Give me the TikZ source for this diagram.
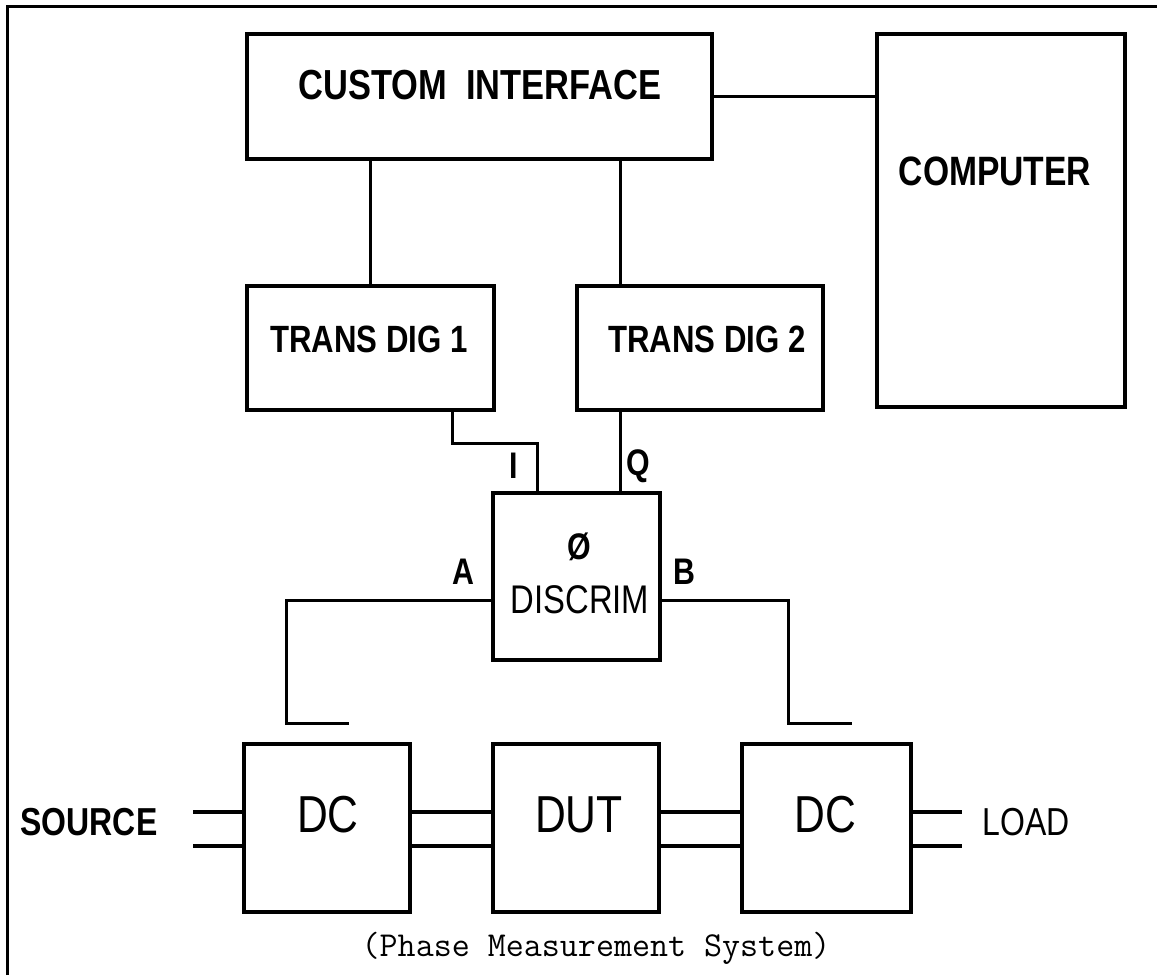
\documentclass[tikz,border=0pt]{standalone}
\usepackage{fontspec}
\setmainfont{Liberation Sans}
\newfontfamily\lfont[FakeStretch=0.82]{Liberation Sans}
\usetikzlibrary{calc}
\tikzset{
  blk/.style={draw, line width=3.5pt, inner sep=0pt, fill=white},
  wire/.style={line width=3pt, line cap=butt, line join=miter},
  pair/.style={line width=4pt},
  lettb/.style={inner sep=0pt, font=\lfont\bfseries\fontsize{#1}{#1}\selectfont},
  lettr/.style={inner sep=0pt, font=\lfont\fontsize{#1}{#1}\selectfont},
  bigr/.style={inner sep=0pt, font=\lfont\fontsize{#1}{#1}\selectfont},
}
\begin{document}
\begin{tikzpicture}[x=1pt, y=-1pt]
\useasboundingbox (0,0) rectangle (1157,975);
% frame
\coordinate (f1) at (7,975);
\coordinate (f2) at (7,6);
\coordinate (f3) at (1157,6);
\draw[line width=3pt] (f1) -- (f2) -- (f3);

% blocks
\node[blk, minimum width=465pt, minimum height=125pt] (ci) at (479.5,96.5) {};
\node[blk, minimum width=248pt, minimum height=373pt] (comp) at (1001,220.5) {};
\node[blk, minimum width=247pt, minimum height=124pt] (td1) at (370.5,348) {};
\node[blk, minimum width=246pt, minimum height=124pt] (td2) at (700,348) {};
\node[blk, minimum width=167pt, minimum height=167pt] (disc) at (576.5,576.5) {};
\node[blk, minimum width=166pt, minimum height=168pt] (dc1) at (327,828) {};
\node[blk, minimum width=166pt, minimum height=168pt] (dut) at (576,828) {};
\node[blk, minimum width=169pt, minimum height=168pt] (dc2) at (826.5,828) {};

% texts
\node[lettb=42pt] (cit) at (480,85) {CUSTOM\ \ INTERFACE};
\node[lettb=41pt] (compt) at (995,171) {COMPUTER};
\node[lettb=38pt] (td1t) at (369,339) {TRANS DIG 1};
\node[lettb=38pt] (td2t) at (707,339) {TRANS DIG 2};
\node[lettb=37pt] (phi) at (579,547) {Ø};
\node[lettr=40pt] (disct) at (580,600) {DISCRIM};
\node[bigr=52pt] (dc1t) at (328,815) {DC};
\node[bigr=52pt] (dutt) at (579,815) {DUT};
\node[bigr=52pt] (dc2t) at (825,815) {DC};
\node[lettb=39pt] (src) at (89,822) {SOURCE};
\node[lettr=39pt] (load) at (1026,822) {LOAD};
\node[lettb=37pt] (li) at (514,466) {I};
\node[lettb=37pt] (lq) at (638,466) {Q};
\node[lettb=37pt] (la) at (463,572) {A};
\node[lettb=37pt] (lb) at (684,572) {B};
\node[inner sep=0pt, font=\ttfamily\fontsize{35pt}{35pt}\selectfont] (cap) at (596,948) {(Phase Measurement System)};

% helper coordinates
\coordinate (qx) at (620,0);
\coordinate (ix) at (452,443);
\coordinate (iy) at (537,443);
\coordinate (ay) at (286,600);
\coordinate (ac) at (286,723);
\coordinate (ae) at (349,723);
\coordinate (by) at (788,600);
\coordinate (bc) at (788,723);
\coordinate (be) at (852,723);
\coordinate (l1) at (0,812);
\coordinate (l2) at (0,846);
\coordinate (s1) at (193,812);
\coordinate (s2) at (193,846);
\coordinate (o1) at (962,812);
\coordinate (o2) at (962,846);

% connectors
\draw[wire] (ci.east) -- (comp.west |- ci.east);
\draw[wire] (ci.south -| td1.north) -- (td1.north);
\draw[wire] (ci.south -| qx) -- (td2.north -| qx);
\draw[wire] (td2.south -| qx) -- (disc.north -| qx);
\draw[wire] (td1.south -| ix) -- (ix) -- (iy) -- (disc.north -| iy);
\draw[wire] (disc.west |- ay) -- (ay) -- (ac) -- (ae);
\draw[wire] (disc.east |- by) -- (by) -- (bc) -- (be);

\draw[pair] (s1) -- (dc1.west |- l1);
\draw[pair] (s2) -- (dc1.west |- l2);
\draw[pair] (dc1.east |- l1) -- (dut.west |- l1);
\draw[pair] (dc1.east |- l2) -- (dut.west |- l2);
\draw[pair] (dut.east |- l1) -- (dc2.west |- l1);
\draw[pair] (dut.east |- l2) -- (dc2.west |- l2);
\draw[pair] (dc2.east |- l1) -- (o1);
\draw[pair] (dc2.east |- l2) -- (o2);
\end{tikzpicture}
\end{document}
